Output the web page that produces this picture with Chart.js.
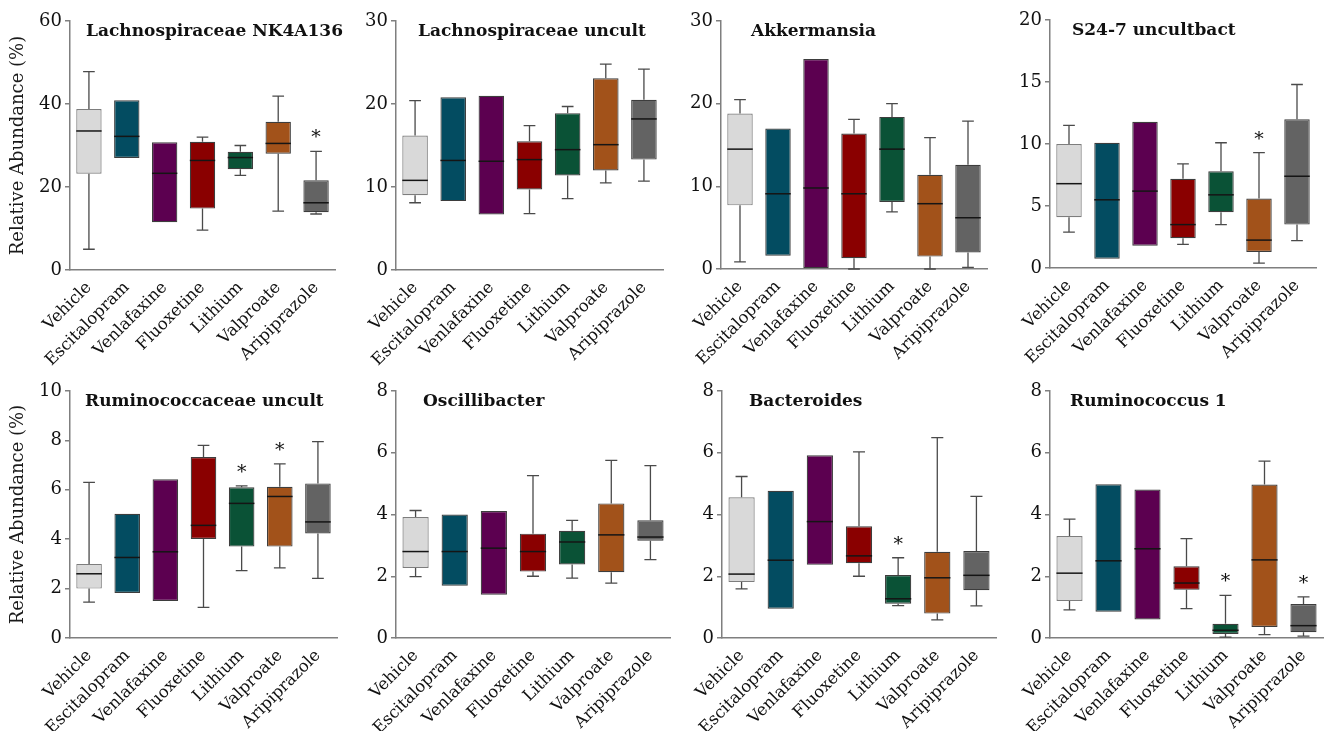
<!DOCTYPE html>
<html>
<head>
<meta charset="utf-8">
<script src="https://cdn.jsdelivr.net/npm/chart.js@4.4.1/dist/chart.umd.min.js"></script>
<style>
  html, body { margin: 0; padding: 0; background: #ffffff; }
  body { width: 1330px; height: 731px; position: relative; overflow: hidden; }
  .panel { position: absolute; }
</style>
</head>
<body>
<script>
// Treatment groups and their fill colours
const groups = ['Vehicle', 'Escitalopram', 'Venlafaxine', 'Fluoxetine', 'Lithium', 'Valproate', 'Aripiprazole'];
const groupColors = ['#d9d9d9', '#034c61', '#5c0050', '#8a0000', '#0a5236', '#a2521a', '#636363'];
const groupBorders = ['#7d7d7d', '#3d3d3d', '#3d3d3d', '#3d3d3d', '#3d3d3d', '#3d3d3d', '#3d3d3d'];

// Lachnospiraceae NK4A136 (relative abundance, %)
const nk_min = [5.0, 27.0, 11.5, 9.6, 22.8, 14.2, 13.5];
const nk_q1  = [23.2, 27.0, 11.5, 14.8, 24.3, 28.0, 13.9];
const nk_med = [33.5, 32.2, 23.3, 26.4, 27.1, 30.5, 16.2];
const nk_q3  = [38.8, 40.9, 30.8, 30.9, 28.5, 35.7, 21.6];
const nk_max = [47.8, 40.9, 30.8, 32.0, 30.0, 41.9, 28.6];
const nk_sig = [6];
const nk_ticks = [0, 20, 40, 60];

// Lachnospiraceae uncult
const lu_min = [8.1, 8.3, 6.7, 6.8, 8.6, 10.5, 10.7];
const lu_q1  = [9.0, 8.3, 6.7, 9.7, 11.4, 12.0, 13.3];
const lu_med = [10.8, 13.2, 13.1, 13.3, 14.5, 15.1, 18.2];
const lu_q3  = [16.2, 20.8, 21.0, 15.5, 18.9, 23.1, 20.5];
const lu_max = [20.4, 20.8, 21.0, 17.4, 19.7, 24.8, 24.2];
const lu_sig = [];
const lu_ticks = [0, 10, 20, 30];

// Akkermansia
const ak_min = [0.85, 1.6, 0, 0, 6.9, 0, 0.2];
const ak_q1  = [7.7, 1.6, 0, 1.3, 8.1, 1.5, 2.0];
const ak_med = [14.5, 9.1, 9.8, 9.1, 14.5, 7.9, 6.2];
const ak_q3  = [18.8, 17.0, 25.4, 16.4, 18.4, 11.4, 12.6];
const ak_max = [20.5, 17.0, 25.4, 18.1, 20.0, 15.9, 17.9];
const ak_sig = [];
const ak_ticks = [0, 10, 20, 30];

// S24-7 uncultbact
const s24_min = [2.9, 0.75, 1.8, 1.9, 3.5, 0.4, 2.2];
const s24_q1  = [4.1, 0.75, 1.8, 2.4, 4.5, 1.3, 3.5];
const s24_med = [6.8, 5.5, 6.2, 3.5, 5.9, 2.25, 7.4];
const s24_q3  = [10.0, 10.1, 11.8, 7.2, 7.8, 5.6, 12.0];
const s24_max = [11.5, 10.1, 11.8, 8.4, 10.1, 9.3, 14.8];
const s24_sig = [5];
const s24_ticks = [0, 5, 10, 15, 20];

// Ruminococcaceae uncult
const ru_min = [1.45, 1.82, 1.5, 1.24, 2.73, 2.84, 2.41];
const ru_q1  = [2.0, 1.82, 1.5, 4.01, 3.7, 3.7, 4.23];
const ru_med = [2.6, 3.26, 3.49, 4.56, 5.45, 5.73, 4.7];
const ru_q3  = [3.0, 5.03, 6.43, 7.33, 6.1, 6.12, 6.26];
const ru_max = [6.3, 5.03, 6.43, 7.8, 6.16, 7.05, 7.95];
const ru_sig = [4, 5];
const ru_ticks = [0, 2, 4, 6, 8, 10];

// Oscillibacter
const os_min = [1.99, 1.69, 1.4, 2.0, 1.94, 1.78, 2.54];
const os_q1  = [2.27, 1.69, 1.4, 2.15, 2.38, 2.13, 3.15];
const os_med = [2.8, 2.8, 2.91, 2.8, 3.11, 3.34, 3.27];
const os_q3  = [3.92, 4.0, 4.11, 3.38, 3.47, 4.36, 3.81];
const os_max = [4.13, 4.0, 4.11, 5.26, 3.81, 5.75, 5.58];
const os_sig = [];
const os_ticks = [0, 2, 4, 6, 8];

// Bacteroides
const ba_min = [1.59, 0.95, 2.37, 2.0, 1.05, 0.59, 1.04];
const ba_q1  = [1.81, 0.95, 2.37, 2.42, 1.11, 0.79, 1.55];
const ba_med = [2.07, 2.52, 3.77, 2.66, 1.27, 1.95, 2.03];
const ba_q3  = [4.56, 4.77, 5.92, 3.62, 2.04, 2.79, 2.82];
const ba_max = [5.23, 4.77, 5.92, 6.03, 2.6, 6.49, 4.59];
const ba_sig = [4];
const ba_ticks = [0, 2, 4, 6, 8];

// Ruminococcus 1
const rc_min = [0.91, 0.85, 0.6, 0.95, 0.03, 0.11, 0.06];
const rc_q1  = [1.2, 0.85, 0.6, 1.56, 0.13, 0.36, 0.19];
const rc_med = [2.1, 2.5, 2.89, 1.78, 0.25, 2.53, 0.4];
const rc_q3  = [3.3, 4.98, 4.81, 2.32, 0.46, 4.97, 1.1];
const rc_max = [3.85, 4.98, 4.81, 3.22, 1.38, 5.73, 1.33];
const rc_sig = [4, 6];
const rc_ticks = [0, 2, 4, 6, 8];

const FONT = '"DejaVu Serif", "Liberation Serif", serif';
const AXIS_GREY = '#7f7f7f';

// Panel list: stats plus where each plot area sits on the page
const panels = [
  { title: 'Lachnospiraceae NK4A136', st: [nk_min, nk_q1, nk_med, nk_q3, nk_max], sig: nk_sig, ticks: nk_ticks, box: [70, 335, 21, 270], dx: 16, col: 0 },
  { title: 'Lachnospiraceae uncult', st: [lu_min, lu_q1, lu_med, lu_q3, lu_max], sig: lu_sig, ticks: lu_ticks, box: [396, 663, 21, 270], dx: 22, col: 1 },
  { title: 'Akkermansia', st: [ak_min, ak_q1, ak_med, ak_q3, ak_max], sig: ak_sig, ticks: ak_ticks, box: [721, 987, 21, 269], dx: 30, col: 2 },
  { title: 'S24-7 uncultbact', st: [s24_min, s24_q1, s24_med, s24_q3, s24_max], sig: s24_sig, ticks: s24_ticks, box: [1050, 1316, 20, 268], dx: 22, col: 3 },
  { title: 'Ruminococcaceae uncult', st: [ru_min, ru_q1, ru_med, ru_q3, ru_max], sig: ru_sig, ticks: ru_ticks, box: [70, 337, 391, 638], dx: 15, col: 0 },
  { title: 'Oscillibacter', st: [os_min, os_q1, os_med, os_q3, os_max], sig: os_sig, ticks: os_ticks, box: [396, 670, 391, 638], dx: 27, col: 1 },
  { title: 'Bacteroides', st: [ba_min, ba_q1, ba_med, ba_q3, ba_max], sig: ba_sig, ticks: ba_ticks, box: [722, 996, 391, 638], dx: 27, col: 2 },
  { title: 'Ruminococcus 1', st: [rc_min, rc_q1, rc_med, rc_q3, rc_max], sig: rc_sig, ticks: rc_ticks, box: [1050, 1323, 391, 638], dx: 20, col: 3 }
];

const PAD_TOP = 16, PAD_RIGHT = 24, X_AXIS_H = 104;

function makePanel(p) {
  const [L, R, T, B] = p.box;
  const divLeft = p.col === 0 ? 8 : L - 50;
  const yAxisW = L - divLeft;
  const div = document.createElement('div');
  div.className = 'panel';
  div.style.left = divLeft + 'px';
  div.style.top = (T - PAD_TOP) + 'px';
  div.style.width = (R + PAD_RIGHT - divLeft) + 'px';
  div.style.height = (PAD_TOP + (B - T) + X_AXIS_H) + 'px';
  const canvas = document.createElement('canvas');
  div.appendChild(canvas);
  document.body.appendChild(div);

  const [mn, q1, md, q3, mx] = p.st;
  const yMax = p.ticks[p.ticks.length - 1];
  const yStep = p.ticks[1] - p.ticks[0];

  // whiskers, medians, significance marks and the panel heading
  const boxExtras = {
    id: 'boxExtras',
    afterDatasetsDraw(chart) {
      const { ctx, chartArea, scales: { x, y } } = chart;
      const bars = chart.getDatasetMeta(0).data;
      ctx.save();
      groups.forEach((g, i) => {
        const cx = x.getPixelForValue(i);
        const half = bars[i].width / 2;
        const cap = half * 0.46;
        const yMin = y.getPixelForValue(mn[i]);
        const yQ1 = y.getPixelForValue(q1[i]);
        const yMed = y.getPixelForValue(md[i]);
        const yQ3 = y.getPixelForValue(q3[i]);
        const yMx = y.getPixelForValue(mx[i]);
        ctx.strokeStyle = '#4a4a4a';
        ctx.lineWidth = 1.3;
        ctx.beginPath();
        if (mx[i] > q3[i]) {
          ctx.moveTo(cx, yQ3); ctx.lineTo(cx, yMx);
          ctx.moveTo(cx - cap, yMx); ctx.lineTo(cx + cap, yMx);
        }
        if (mn[i] < q1[i]) {
          ctx.moveTo(cx, yQ1); ctx.lineTo(cx, yMin);
          ctx.moveTo(cx - cap, yMin); ctx.lineTo(cx + cap, yMin);
        }
        ctx.stroke();
        ctx.strokeStyle = '#151515';
        ctx.lineWidth = 1.5;
        ctx.beginPath();
        ctx.moveTo(cx - half, yMed); ctx.lineTo(cx + half, yMed);
        ctx.stroke();
      });
      ctx.fillStyle = '#111';
      ctx.font = '19px ' + FONT;
      ctx.textAlign = 'center';
      ctx.textBaseline = 'alphabetic';
      p.sig.forEach(i => {
        const cx = x.getPixelForValue(i);
        ctx.fillText('*', cx, y.getPixelForValue(mx[i]) - 8);
      });
      ctx.font = 'bold 17px ' + FONT;
      ctx.textAlign = 'left';
      ctx.fillText(p.title, chartArea.left + p.dx, chartArea.top + 15);
      ctx.restore();
    }
  };

  new Chart(canvas, {
    type: 'bar',
    data: {
      labels: groups,
      datasets: [{
        data: groups.map((g, i) => [q1[i], q3[i]]),
        backgroundColor: groupColors,
        borderColor: groupBorders,
        borderWidth: 1.2,
        borderSkipped: false,
        barPercentage: 0.67,
        categoryPercentage: 1.0
      }]
    },
    options: {
      responsive: true,
      maintainAspectRatio: false,
      animation: false,
      events: [],
      layout: { autoPadding: false, padding: { top: PAD_TOP, right: PAD_RIGHT, bottom: 0, left: 0 } },
      plugins: { legend: { display: false }, tooltip: { enabled: false }, title: { display: false } },
      scales: {
        x: {
          grid: { display: false },
          border: { display: true, color: AXIS_GREY, width: 1.5 },
          ticks: {
            color: '#111',
            font: { family: FONT, size: 16.5 },
            minRotation: 45,
            maxRotation: 45,
            autoSkip: false,
            padding: 0
          },
          afterFit(s) { s.height = X_AXIS_H; }
        },
        y: {
          min: 0,
          max: yMax,
          grid: { drawOnChartArea: false, drawTicks: true, tickLength: 5, color: AXIS_GREY, lineWidth: 1.5 },
          border: { display: true, color: AXIS_GREY, width: 1.5 },
          ticks: { stepSize: yStep, color: '#111', font: { family: FONT, size: 18 }, padding: 3 },
          title: {
            display: p.col === 0,
            text: 'Relative Abundance (%)',
            color: '#1a1a1a',
            font: { family: FONT, size: 18 },
            padding: 0
          },
          afterFit(s) { s.width = yAxisW; }
        }
      }
    },
    plugins: [boxExtras]
  });
}

panels.forEach(makePanel);
</script>
</body>
</html>
